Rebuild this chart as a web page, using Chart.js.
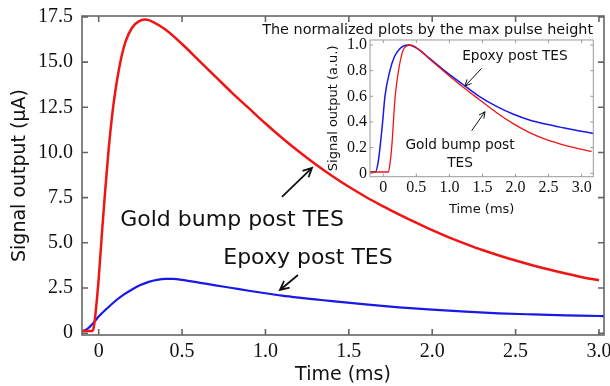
<!DOCTYPE html>
<html>
<head>
<meta charset="utf-8">
<script src="https://cdn.jsdelivr.net/npm/chart.js@4.4.0/dist/chart.umd.min.js"></script>
<style>
  html, body { margin: 0; padding: 0; background: #fff; }
  #wrap { position: relative; width: 610px; height: 386px; }
  #mainChart { position: absolute; left: 0; top: 0; }
  #insetChart { position: absolute; left: 262px; top: 22px; }
</style>
</head>
<body>
<div id="wrap">
  <canvas id="mainChart" width="610" height="386"></canvas>
  <canvas id="insetChart" width="338" height="200"></canvas>
</div>
<script>
// main plot: signal output (uA) vs time (ms)
const goldTime = [-0.1, -0.04, -0.03, -0.02, 0, 0.02, 0.04, 0.06, 0.08, 0.1, 0.13, 0.16, 0.2, 0.24, 0.28, 0.33, 0.4,
  0.5, 0.6, 0.7, 0.8, 0.9, 1.0, 1.1, 1.2, 1.3, 1.4, 1.5, 1.6, 1.7, 1.8, 1.9, 2.0, 2.1, 2.2, 2.3, 2.4, 2.5, 2.6, 2.7, 2.8, 2.9, 3.0];
const goldSignal = [0.12, 0.12, 0.3, 1.0, 3.0, 5.6, 8.0, 10.2, 12.0, 13.4, 15.0, 16.1, 16.9, 17.25, 17.35, 17.2, 16.8,
  16.0, 15.1, 14.2, 13.3, 12.45, 11.6, 10.8, 10.05, 9.35, 8.7, 8.1, 7.55, 7.05, 6.58, 6.13, 5.7, 5.3, 4.94, 4.6, 4.3, 4.02, 3.76, 3.52, 3.3, 3.1, 2.93];

const epoxyTime = [-0.1, -0.07, -0.04, -0.02, 0, 0.05, 0.1, 0.15, 0.2, 0.25, 0.3, 0.35, 0.4, 0.45, 0.5, 0.6, 0.7, 0.8, 0.9,
  1.0, 1.1, 1.2, 1.3, 1.4, 1.6, 1.8, 2.0, 2.2, 2.4, 2.6, 2.8, 3.0, 3.03];
const epoxySignal = [0.1, 0.22, 0.48, 0.7, 0.92, 1.37, 1.78, 2.13, 2.42, 2.66, 2.84, 2.95, 3.0, 3.0, 2.95, 2.8, 2.65, 2.5, 2.35,
  2.21, 2.08, 1.97, 1.87, 1.77, 1.59, 1.43, 1.3, 1.19, 1.1, 1.04, 0.99, 0.95, 0.94];

const mainXTicks = [0, 0.5, 1.0, 1.5, 2.0, 2.5, 3.0];
const mainYTicks = [0, 2.5, 5.0, 7.5, 10.0, 12.5, 15.0, 17.5];

// inset: normalized by max pulse height
const goldNormTime = [-0.2, 0.076, 0.1, 0.127, 0.18, 0.23, 0.3, 0.35, 0.4, 0.45, 0.55, 0.7, 0.95, 1.21, 1.45, 1.72, 1.97, 2.22, 2.47, 2.72, 2.95, 3.15];
const goldNorm = [0.01, 0.01, 0.07, 0.2, 0.6, 0.8, 0.96, 0.99, 1.0, 0.995, 0.96, 0.89, 0.78, 0.67, 0.575, 0.47, 0.385, 0.315, 0.262, 0.222, 0.192, 0.17];

const epoxyNormTime = [-0.2, -0.12, -0.08, -0.05, -0.01, 0.025, 0.1, 0.17, 0.25, 0.3, 0.38, 0.45, 0.55, 0.7, 0.95, 1.21, 1.45, 1.72, 1.97, 2.22, 2.47, 2.72, 2.95, 3.18];
const epoxyNorm = [0.01, 0.01, 0.08, 0.2, 0.4, 0.6, 0.8, 0.91, 0.97, 0.99, 1.0, 0.99, 0.96, 0.896, 0.79, 0.69, 0.6, 0.52, 0.46, 0.414, 0.382, 0.355, 0.332, 0.31];

const insetXTicks = [0, 0.5, 1.0, 1.5, 2.0, 2.5, 3.0];
const insetYTicks = [0, 0.2, 0.4, 0.6, 0.8, 1.0];

const RED = '#f01414';
const BLUE = '#1818e8';
const SANS = 'DejaVu Sans';
const SERIF = 'Liberation Serif';

function toPoints(xs, ys) {
  return xs.map((x, i) => ({ x: x, y: ys[i] }));
}

function tickLabel(v) {
  return v === 0 ? '0' : v.toFixed(1);
}

// box around the plot with inward tick marks on all four sides
function framePlugin(xTicks, yTicks, color, width, len) {
  return {
    id: 'frame',
    afterDraw(chart) {
      const ctx = chart.ctx, a = chart.chartArea;
      const xs = chart.scales.x, ys = chart.scales.y;
      ctx.save();
      ctx.strokeStyle = color;
      ctx.lineWidth = width;
      ctx.strokeRect(a.left, a.top, a.right - a.left, a.bottom - a.top);
      ctx.beginPath();
      xTicks.forEach(v => {
        const p = xs.getPixelForValue(v);
        ctx.moveTo(p, a.bottom); ctx.lineTo(p, a.bottom - len);
        ctx.moveTo(p, a.top); ctx.lineTo(p, a.top + len);
      });
      yTicks.forEach(v => {
        const p = ys.getPixelForValue(v);
        ctx.moveTo(a.left, p); ctx.lineTo(a.left + len, p);
        ctx.moveTo(a.right, p); ctx.lineTo(a.right - len, p);
      });
      ctx.stroke();
      ctx.restore();
    }
  };
}

// text labels and arrows placed in data coordinates
function notesPlugin(labels, arrows, font, arrowWidth, headLen) {
  return {
    id: 'notes',
    afterDatasetsDraw(chart) {
      const ctx = chart.ctx, xs = chart.scales.x, ys = chart.scales.y;
      ctx.save();
      ctx.fillStyle = '#111';
      ctx.strokeStyle = '#111';
      ctx.font = font;
      ctx.textAlign = 'center';
      ctx.textBaseline = 'middle';
      labels.forEach(l => ctx.fillText(l.text, xs.getPixelForValue(l.x), ys.getPixelForValue(l.y)));
      ctx.lineWidth = arrowWidth;
      arrows.forEach(ar => {
        const x1 = xs.getPixelForValue(ar.from[0]), y1 = ys.getPixelForValue(ar.from[1]);
        const x2 = xs.getPixelForValue(ar.to[0]), y2 = ys.getPixelForValue(ar.to[1]);
        const ang = Math.atan2(y2 - y1, x2 - x1);
        ctx.beginPath();
        ctx.moveTo(x1, y1); ctx.lineTo(x2, y2);
        ctx.moveTo(x2 - headLen * Math.cos(ang - 0.45), y2 - headLen * Math.sin(ang - 0.45));
        ctx.lineTo(x2, y2);
        ctx.lineTo(x2 - headLen * Math.cos(ang + 0.45), y2 - headLen * Math.sin(ang + 0.45));
        ctx.stroke();
      });
      ctx.restore();
    }
  };
}

new Chart(document.getElementById('mainChart'), {
  type: 'line',
  data: {
    datasets: [
      { label: 'Gold bump post TES', data: toPoints(goldTime, goldSignal), borderColor: RED, borderWidth: 2.5, pointRadius: 0, cubicInterpolationMode: 'monotone' },
      { label: 'Epoxy post TES', data: toPoints(epoxyTime, epoxySignal), borderColor: BLUE, borderWidth: 2.2, pointRadius: 0, cubicInterpolationMode: 'monotone' }
    ]
  },
  options: {
    responsive: false,
    animation: false,
    layout: { padding: { top: 16, right: 6, left: 0, bottom: 0 } },
    plugins: { legend: { display: false }, tooltip: { enabled: false } },
    scales: {
      x: {
        type: 'linear', min: -0.1, max: 3.03,
        grid: { display: false, drawTicks: false },
        border: { display: false },
        ticks: { font: { family: SERIF, size: 20 }, color: '#111', padding: 5, maxRotation: 0, autoSkip: false, callback: v => tickLabel(v) },
        title: { display: true, text: 'Time (ms)', font: { family: SANS, size: 19 }, color: '#111', padding: { top: 0, bottom: 0 } },
        afterBuildTicks: s => { s.ticks = mainXTicks.map(v => ({ value: v })); },
        afterFit: s => { s.height = 51; s.paddingLeft = 0; s.paddingRight = 0; }
      },
      y: {
        type: 'linear', min: -0.1, max: 17.55,
        grid: { display: false, drawTicks: false },
        border: { display: false },
        ticks: { font: { family: SERIF, size: 20 }, color: '#111', padding: 9, autoSkip: false, callback: v => tickLabel(v) },
        title: { display: true, text: 'Signal output (μA)', font: { family: SANS, size: 19 }, color: '#111', padding: { top: 8.6, bottom: 0 } },
        afterBuildTicks: s => { s.ticks = mainYTicks.map(v => ({ value: v })); },
        afterFit: s => { s.width = 82; s.paddingTop = 0; s.paddingBottom = 0; }
      }
    }
  },
  plugins: [
    framePlugin(mainXTicks, mainYTicks, '#666', 1.6, 6),
    notesPlugin(
      [{ text: 'Gold bump post TES', x: 0.80, y: 6.27 }, { text: 'Epoxy post TES', x: 1.255, y: 4.16 }],
      [{ from: [1.099, 7.54], to: [1.279, 9.15] }, { from: [1.195, 3.22], to: [1.087, 2.39] }],
      '22px "DejaVu Sans"', 1.8, 10)
  ]
});

new Chart(document.getElementById('insetChart'), {
  type: 'line',
  data: {
    datasets: [
      { label: 'Gold bump post TES', data: toPoints(goldNormTime, goldNorm), borderColor: RED, borderWidth: 1.3, pointRadius: 0, cubicInterpolationMode: 'monotone' },
      { label: 'Epoxy post TES', data: toPoints(epoxyNormTime, epoxyNorm), borderColor: BLUE, borderWidth: 1.5, pointRadius: 0, cubicInterpolationMode: 'monotone' }
    ]
  },
  options: {
    responsive: false,
    animation: false,
    layout: { padding: { top: 0, right: 6.7, left: 0, bottom: 0 } },
    plugins: {
      legend: { display: false },
      tooltip: { enabled: false },
      title: { display: true, text: 'The normalized plots by the max pulse height', font: { family: SANS, size: 14.4, weight: 'normal' }, color: '#111', padding: { top: 0, bottom: 0.7 } }
    },
    scales: {
      x: {
        type: 'linear', min: -0.201, max: 3.176,
        grid: { display: false, drawTicks: false },
        border: { display: false },
        ticks: { font: { family: SERIF, size: 16 }, color: '#111', padding: 1, maxRotation: 0, autoSkip: false, callback: v => tickLabel(v) },
        title: { display: true, text: 'Time (ms)', font: { family: SANS, size: 13 }, color: '#111', padding: { top: 0, bottom: 4.2 } },
        afterBuildTicks: s => { s.ticks = insetXTicks.map(v => ({ value: v })); },
        afterFit: s => { s.height = 45.3; s.paddingLeft = 0; s.paddingRight = 0; }
      },
      y: {
        type: 'linear', min: -0.0265, max: 1.039,
        grid: { display: false, drawTicks: false },
        border: { display: false },
        ticks: { font: { family: SERIF, size: 16 }, color: '#111', padding: 3, autoSkip: false, callback: v => tickLabel(v) },
        title: { display: true, text: 'Signal output (a.u.)', font: { family: SANS, size: 13 }, color: '#111', padding: { top: 64, bottom: 0 } },
        afterBuildTicks: s => { s.ticks = insetYTicks.map(v => ({ value: v })); },
        afterFit: s => { s.width = 108; s.paddingTop = 0; s.paddingBottom = 0; }
      }
    }
  },
  plugins: [
    framePlugin(insetXTicks, insetYTicks, '#999', 1, 3),
    notesPlugin(
      [{ text: 'Epoxy post TES', x: 1.99, y: 0.914 }, { text: 'Gold bump post', x: 1.16, y: 0.22 }, { text: 'TES', x: 1.16, y: 0.078 }],
      [{ from: [1.488, 0.818], to: [1.235, 0.68] }, { from: [1.337, 0.332], to: [1.538, 0.48] }],
      '13.7px "DejaVu Sans"', 1, 7)
  ]
});
</script>
</body>
</html>
